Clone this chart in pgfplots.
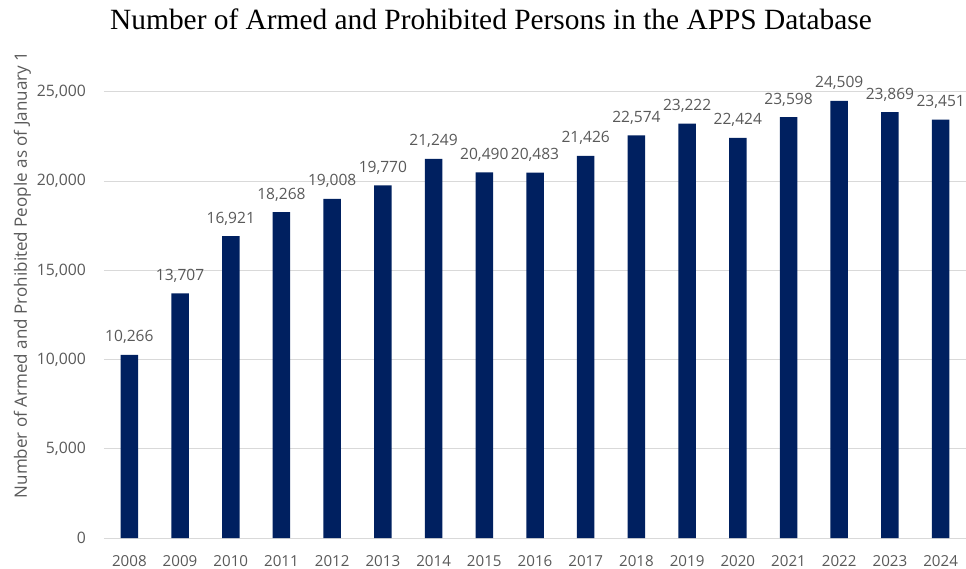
\documentclass[border=0pt]{standalone}
\usepackage{pgfplots}
\pgfplotsset{compat=1.18}
\usepackage{fontspec}
\setmainfont{Open Sans}
\newfontfamily\titlefont{Liberation Serif}
\definecolor{navy}{RGB}{0,32,96}
\definecolor{txt}{RGB}{89,89,89}
\definecolor{gridc}{RGB}{217,217,217}
\begin{document}
\begin{tikzpicture}
\useasboundingbox (-104bp,-31bp) rectangle (862bp,538bp);
\begin{axis}[
  at={(0,0)}, anchor=south west,
  scale only axis, width=862bp, height=446bp,
  ymin=0, ymax=25000, xmin=-0.5, xmax=16.5,
  ytick={0,5000,10000,15000,20000,25000},
  xtick={0,...,16},
  xticklabels={2008,2009,2010,2011,2012,2013,2014,2015,2016,2017,2018,2019,2020,2021,2022,2023,2024},
  axis x line*=bottom, axis y line*=left,
  x axis line style={gridc, line width=1bp, -},
  y axis line style={draw=none},
  major tick length=0,
  ymajorgrids, grid style={gridc, line width=1bp},
  scaled y ticks=false,
  /pgf/number format/assume math mode=true,
  /pgf/number format/1000 sep={,},
  yticklabel style={font=\fontsize{15.8}{16}\selectfont, color=txt, anchor=east, inner sep=0pt, xshift=-18bp},
  xticklabel style={font=\fontsize{15.2}{16}\selectfont, color=txt, anchor=base, inner sep=0pt, yshift=-28bp},
  ybar, bar width=17.5bp,
  nodes near coords,
  nodes near coords style={font=\fontsize{15.6}{16}\selectfont, color=txt, anchor=base, inner sep=0pt, yshift=13bp, /pgf/number format/1000 sep={,}, /pgf/number format/assume math mode=true},
  clip=false,
]
\addplot[fill=navy, draw=none] coordinates {
(0,10266) (1,13707) (2,16921) (3,18268) (4,19008) (5,19770) (6,21249) (7,20490) (8,20483)
(9,21426) (10,22574) (11,23222) (12,22424) (13,23598) (14,24509) (15,23869) (16,23451)};
\node[anchor=base, font=\titlefont\fontsize{29.5}{29.5}\selectfont, text=black] at ([yshift=62bp]rel axis cs:0.449,1) {Number of Armed and Prohibited Persons in the APPS Database};
\node[rotate=90, anchor=base, font=\fontsize{17.1}{17}\selectfont, text=txt] at ([xshift=-77bp]rel axis cs:0,0.5897) {Number of Armed and Prohibited People as of January 1};
\end{axis}
\end{tikzpicture}
\end{document}
